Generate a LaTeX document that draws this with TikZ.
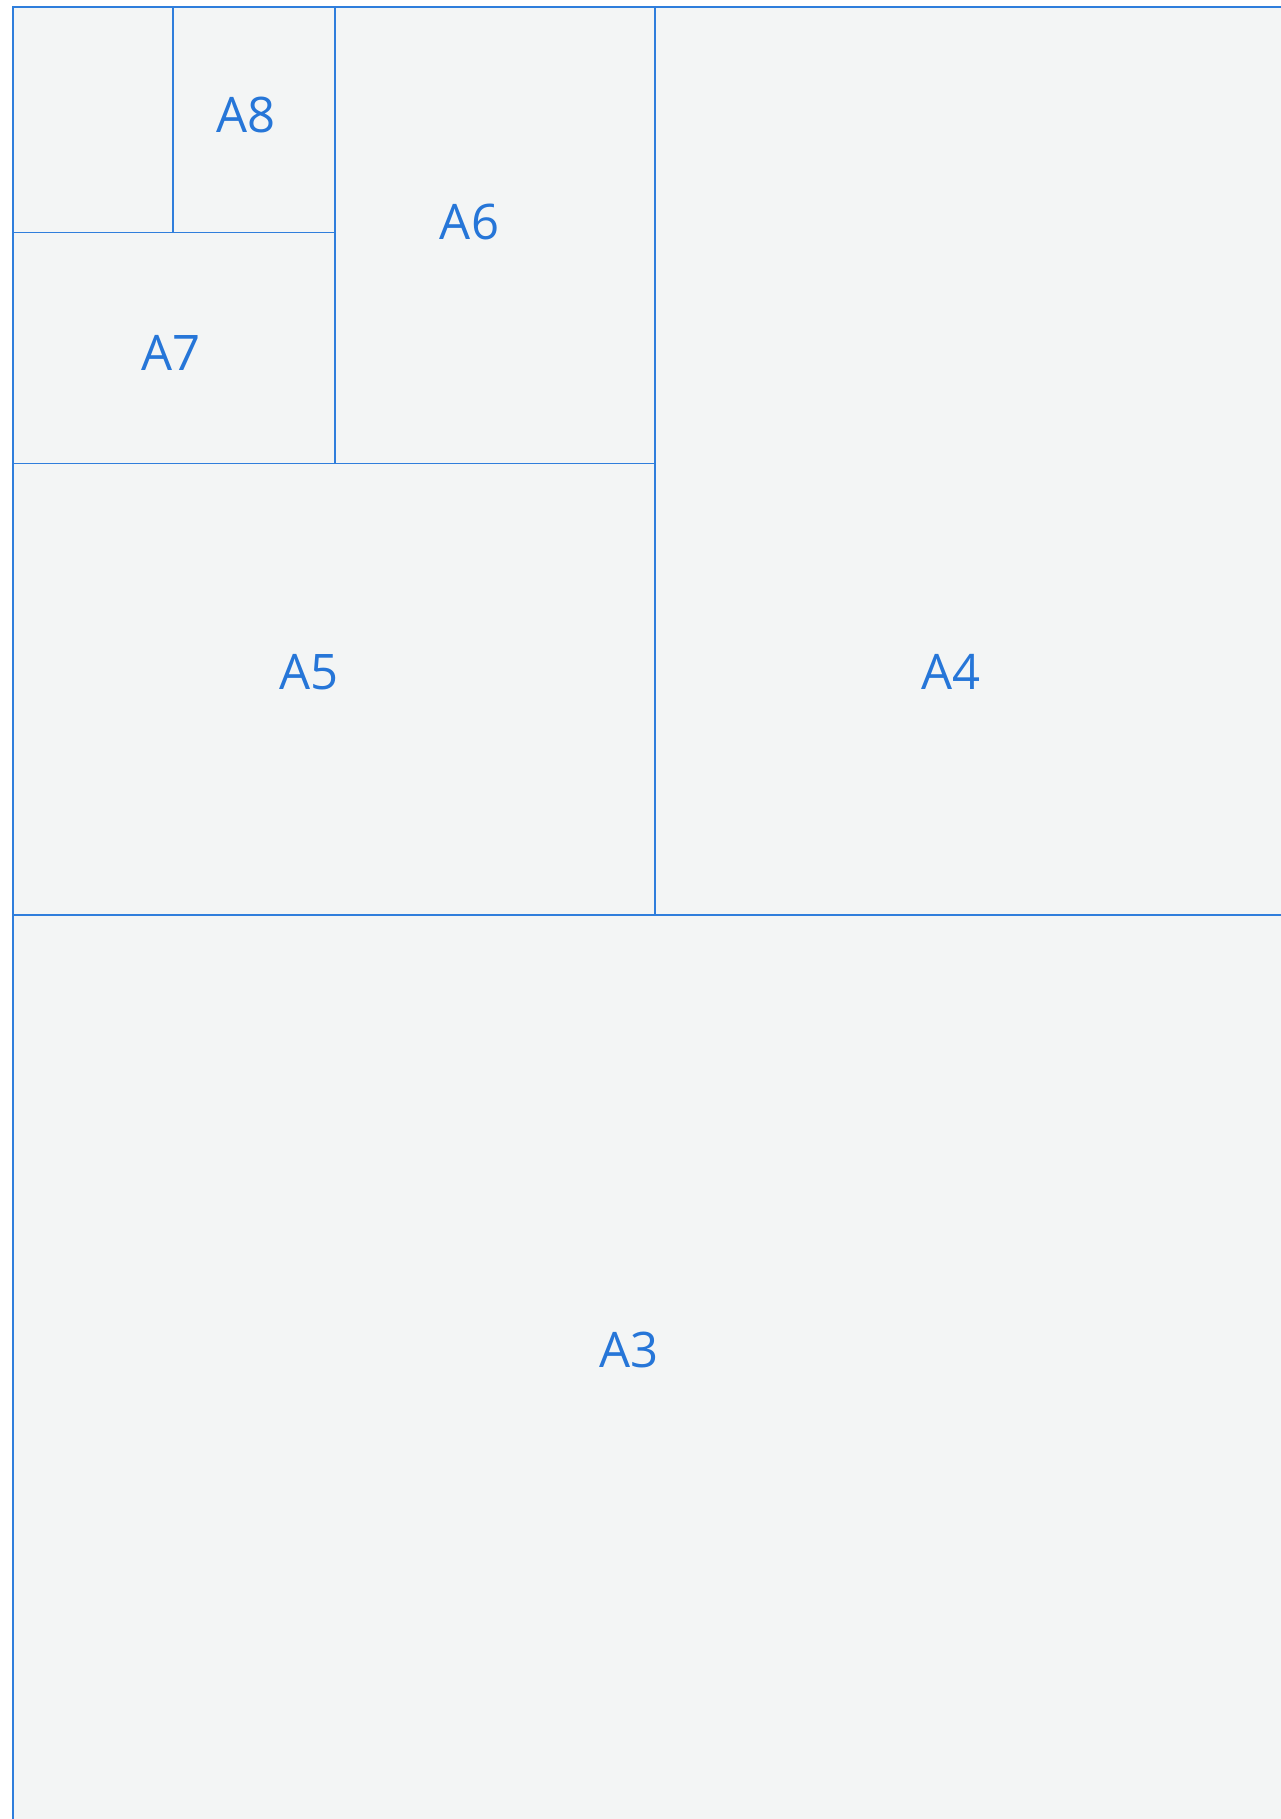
\documentclass[tikz,border=0pt]{standalone}
\usepackage{fontspec}
\setmainfont{Open Sans}
\definecolor{linec}{HTML}{2F7EDC}
\definecolor{textc}{HTML}{2676D8}
\definecolor{paper}{HTML}{F3F5F5}
\begin{document}
\begin{tikzpicture}[x=1pt,y=-1pt,
  sheet/.style={draw=linec,line width=1.6pt},
  lbl/.style={text=textc,inner sep=0pt,font=\fontsize{49}{49}\selectfont}]
\useasboundingbox (0,0) rectangle (1281,1819);
\fill[white] (0,0) rectangle (1281,1819);
\fill[paper] (12.7,6.8) rectangle (1281,1819);
% outer borders
\draw[sheet] (12.7,1819) -- (12.7,6.8) -- (1281,6.8);
% A3/A4 split
\draw[sheet] (12.7,914.7) -- (1281,914.7);
% A4/A5 split
\draw[sheet] (655,6.8) -- (655,914.7);
% A5/A6 split
\draw[sheet] (12.7,463.3) -- (655,463.3);
% A6/A7 split
\draw[sheet] (334.7,6.8) -- (334.7,463.3);
% A7/A8 split
\draw[sheet] (12.7,232.7) -- (334.7,232.7);
% A8 split
\draw[sheet] (172.7,6.8) -- (172.7,232.7);
% labels
\node[lbl] (a8) at (246,115) {A8};
\node[lbl] (a6) at (469.5,222) {A6};
\node[lbl] (a7) at (170.7,353) {A7};
\node[lbl] (a5) at (309,672) {A5};
\node[lbl] (a4) at (951,672) {A4};
\node[lbl] (a3) at (629,1350) {A3};
\end{tikzpicture}
\end{document}
